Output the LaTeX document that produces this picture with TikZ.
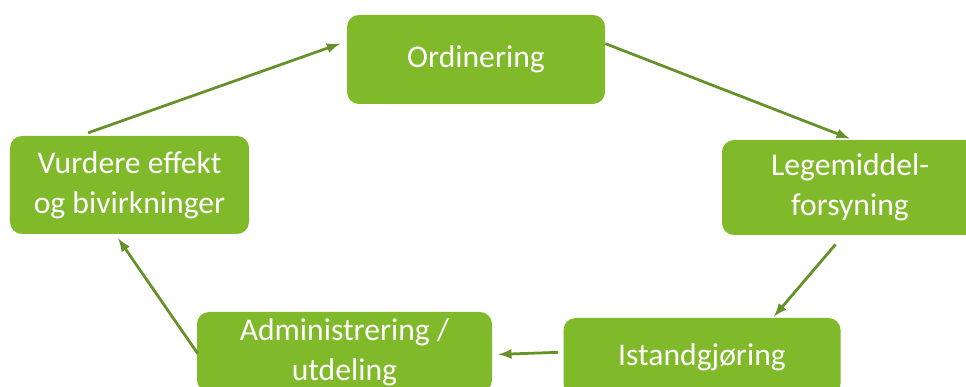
\documentclass[tikz,border=0pt]{standalone}
\usepackage{fontspec}
\setmainfont{Carlito}
\definecolor{boxgreen}{RGB}{128,185,42}
\definecolor{arrowgreen}{RGB}{100,145,40}
\tikzset{
  stepbox/.style={fill=boxgreen,rounded corners=0.24cm,inner sep=0pt,
    align=center,text=white,font=\fontsize{18}{22.5}\selectfont},
  flow/.style={->,>=latex,arrowgreen,line width=0.055cm}
}
\begin{document}
\begin{tikzpicture}[scale=1.0]
    \clip (0,0) rectangle (19.32,7.74);
    % boxes
    \node[stepbox,minimum width=5.16cm,minimum height=1.78cm] (ord) at (9.52,6.55) {Ordinering};
    \node[stepbox,minimum width=5.12cm,minimum height=1.9cm] (leg) at (17.0,3.99)
      {Legemiddel-\\forsyning};
    \node[stepbox,minimum width=5.54cm,minimum height=1.56cm] (ist) at (14.04,0.6) {Istandgjøring};
    \node[stepbox,minimum width=5.9cm,minimum height=1.6cm] (adm) at (6.89,0.7)
      {Administrering /\\utdeling};
    \node[stepbox,minimum width=4.78cm,minimum height=1.96cm] (vur) at (2.59,4.04)
      {Vurdere effekt\\og bivirkninger};
    % arrows
    \draw[flow,shorten <=0.17cm,shorten >=0.14cm] (vur.135.3) -- (ord.172.3);
    \draw[flow,shorten >=0.06cm] (ord.7.3) -- (leg.87.6);
    \draw[flow,shorten <=0.24cm,shorten >=0.03cm] (leg.262.8) -- (ist.29.5);
    \draw[flow,shorten <=0.1cm,shorten >=0.12cm] (ist.178.4) -- (adm.-1.2);
    \draw[flow,shorten <=-0.04cm,shorten >=0.1cm] (adm.180) -- (vur.254);
  \end{tikzpicture}
\end{document}
